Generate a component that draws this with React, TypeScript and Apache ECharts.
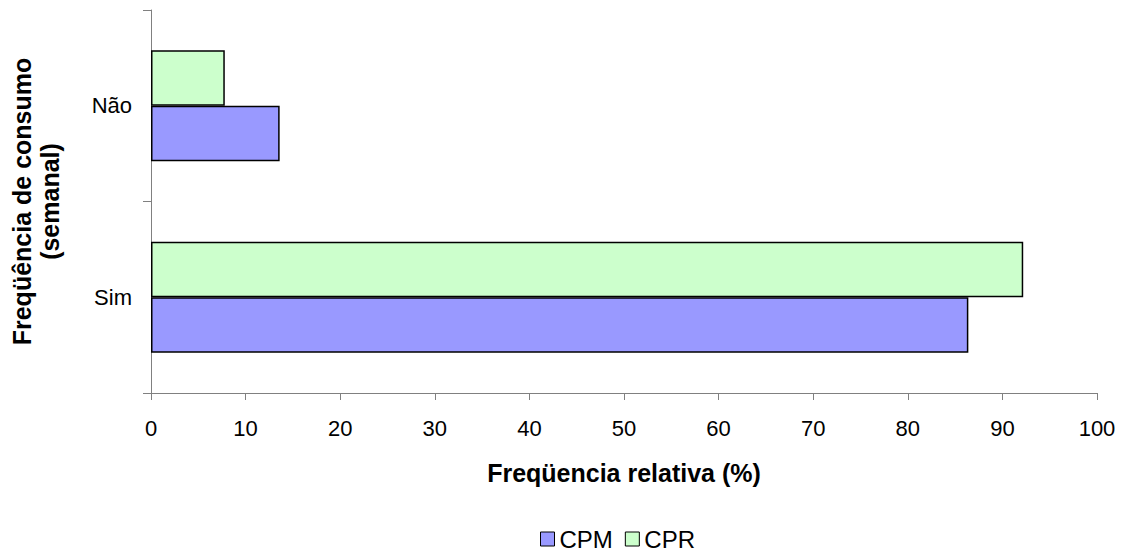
import React, { useEffect, useRef } from "react";
import * as echarts from "echarts";

const categories = ["Sim", "Não"];
const cpmValues = [86.4, 13.6];
const cprValues = [92.2, 7.8];
const xTicks = { min: 0, max: 100, interval: 10 };
const xAxisName = "Freqüencia relativa (%)";
const yAxisName = "Freqüência de consumo\n(semanal)";

export default function App() {
  const ref = useRef<HTMLDivElement>(null);
  useEffect(() => {
    if (!ref.current) return;
    const chart = echarts.init(ref.current, null, { renderer: "svg" });
    const font = "'Liberation Sans', Arial, sans-serif";
    chart.setOption({
      animation: false,
      backgroundColor: "#ffffff",
      textStyle: { fontFamily: font },
      grid: { left: 144, right: 33, top: 10, bottom: 163, containLabel: false },
      legend: {
        data: ["CPM", "CPR"],
        left: 540,
        top: 527,
        padding: 0,
        itemWidth: 14,
        itemHeight: 14,
        itemGap: 12,
        icon: "rect",
        itemStyle: { borderColor: "#000", borderWidth: 1 },
        textStyle: { fontSize: 24, color: "#000", fontFamily: font },
      },
      xAxis: {
        type: "value",
        min: xTicks.min,
        max: xTicks.max,
        interval: xTicks.interval,
        name: xAxisName,
        nameLocation: "middle",
        nameGap: 67,
        nameTextStyle: { fontSize: 25, fontWeight: "bold", color: "#000", fontFamily: font },
        axisLine: { show: true, lineStyle: { color: "#808080", width: 1 } },
        axisTick: { show: true, length: 7, lineStyle: { color: "#808080" } },
        axisLabel: { fontSize: 22, color: "#000", margin: 24, fontFamily: font },
        splitLine: { show: false },
      },
      yAxis: {
        type: "category",
        data: categories,
        name: yAxisName,
        nameLocation: "middle",
        nameRotate: 90,
        nameGap: 87,
        nameTextStyle: { fontSize: 25, fontWeight: "bold", color: "#000", fontFamily: font, lineHeight: 28 },
        axisLine: { show: true, lineStyle: { color: "#808080", width: 1 } },
        axisTick: { show: true, length: 8, lineStyle: { color: "#808080" } },
        axisLabel: { fontSize: 22, color: "#000", margin: 19, fontFamily: font },
      },
      series: [
        {
          name: "CPR",
          type: "bar",
          data: cprValues,
          barGap: "0%",
          barCategoryGap: "42%",
          itemStyle: { color: "#CCFFCC", borderColor: "#000", borderWidth: 1.5 },
        },
        {
          name: "CPM",
          type: "bar",
          data: cpmValues,
          barGap: "0%",
          barCategoryGap: "42%",
          itemStyle: { color: "#9999FF", borderColor: "#000", borderWidth: 1.5 },
        },
      ],
    });
    return () => chart.dispose();
  }, []);
  return (
    <div
      ref={ref}
      style={{ position: "absolute", left: 0, top: 0, width: 1130, height: 556, background: "#fff" }}
    />
  );
}
